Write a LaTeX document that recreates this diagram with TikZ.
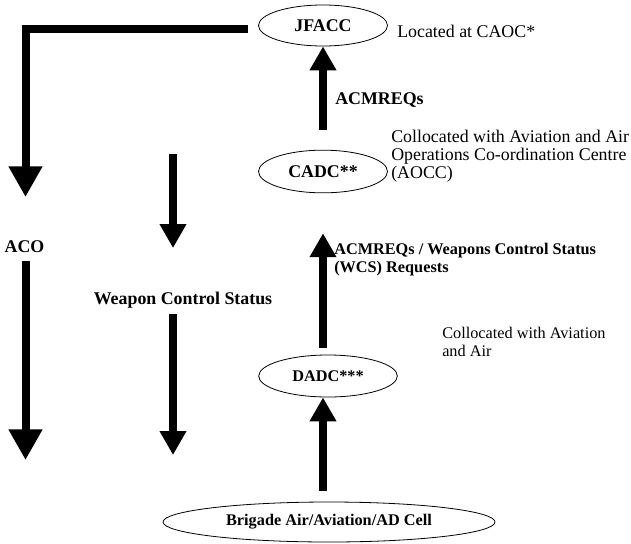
\documentclass[tikz,border=0pt]{standalone}
\usepackage{fontspec}
\setmainfont{Liberation Serif}
\usetikzlibrary{arrows.meta,shapes.geometric}
\newcommand{\bigtext}{\fontsize{13.4}{13.6}\selectfont}
\newcommand{\smalltext}{\fontsize{12.2}{13.6}\selectfont}
\begin{document}
\begin{tikzpicture}[x=0.75pt,y=-0.75pt,
  every node/.style={font=\bigtext, inner sep=0pt},
  cell/.style={ellipse, draw, line width=0.6pt, font=\bigtext\bfseries},
  smallcell/.style={cell, font=\smalltext\bfseries},
  flow/.style={line width=5.4pt, -{Triangle[width=19pt,length=18pt]}},
  bigflow/.style={line width=6pt, -{Triangle[width=24pt,length=23pt]}},
  note/.style={anchor=north west, align=left},
  tag/.style={font=\bigtext\bfseries}
]
\useasboundingbox (0,0) rectangle (631,543);

% control nodes
\node[cell, minimum width=96.75pt, minimum height=30.75pt] (jfacc) at (323,25.5) {JFACC};
\node[cell, minimum width=96.75pt, minimum height=32pt] (cadc) at (323,171.5) {CADC**};
\node[smallcell, minimum width=104pt, minimum height=31.5pt] (dadc) at (328,376) {DADC***};
\node[smallcell, minimum width=249pt, minimum height=30pt] (bde) at (329,522) {Brigade Air/Aviation/AD Cell};

% side notes
\node[anchor=west] (loc) at (397,31) {Located at CAOC*};
\node[note] (aocc) at (391,130) {Collocated with Aviation and Air\\Operations Co-ordination Centre\\(AOCC)};
\node[note, font=\smalltext] (avn) at (442,327) {Collocated with Aviation\\and Air};

% flow labels
\node[tag, anchor=west] (acm) at (335,100) {ACMREQs};
\node[tag, note, font=\smalltext\bfseries] (wcsreq) at (334,243) {ACMREQs / Weapons Control Status\\(WCS) Requests};
\node[tag] (aco) at (24.5,247) {ACO};
\node[tag] (wcs) at (183,300) {Weapon Control Status};

% free ends
\coordinate (acoTurn) at (25.5,28.5);
\coordinate (acoEnd) at (25.5,460);
\coordinate (wcsStart) at (173,154);
\coordinate (wcsMid) at (173,248);
\coordinate (wcsEnd) at (173,455);

% upward requests, all on the CADC axis
\draw[flow, shorten <=15pt] (cadc.north) -- (jfacc.south);
\draw[flow, shorten <=5pt, shorten >=30pt] (cadc.south |- dadc.north) -- (cadc.south);
\draw[flow, shorten <=8pt] (cadc.south |- bde.north) -- (cadc.south |- dadc.south);

% ACO distribution
\draw[line width=6pt, line join=miter] (jfacc.west) ++(-10,0) coordinate (jw) (jw |- acoTurn) -- (acoTurn) -- ++(0,110);
\draw[bigflow] (acoTurn) ++(0,100) -- (25.5,197);
\draw[bigflow, shorten <=6pt] (aco.south -| acoEnd) -- (acoEnd);

% weapon control status
\draw[flow] (wcsStart) -- (wcsMid);
\draw[flow, shorten <=4pt] (wcs.south -| wcsEnd) -- (wcsEnd);
\end{tikzpicture}
\end{document}
